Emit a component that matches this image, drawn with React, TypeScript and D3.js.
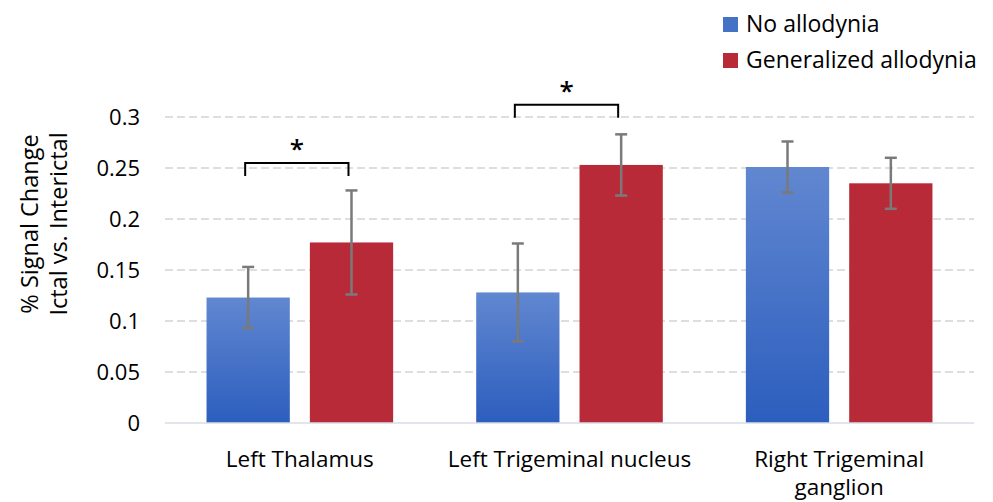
import React, { useRef, useEffect } from "react";
import * as d3 from "d3";

// chart values
const categories = ["Left Thalamus", "Left Trigeminal nucleus", "Right Trigeminal ganglion"];
const categoryLines = [["Left Thalamus"], ["Left Trigeminal nucleus"], ["Right Trigeminal", "ganglion"]];
const seriesNames = ["No allodynia", "Generalized allodynia"];
const noAllodynia = [0.123, 0.128, 0.251];
const noAllodyniaErr = [0.03, 0.048, 0.025];
const generalized = [0.177, 0.253, 0.235];
const generalizedErr = [0.051, 0.03, 0.025];
const yTicks = [0, 0.05, 0.1, 0.15, 0.2, 0.25, 0.3];
const yTickLabels = ["0", "0.05", "0.1", "0.15", "0.2", "0.25", "0.3"];
const sigCategories = ["Left Thalamus", "Left Trigeminal nucleus"];
const sigLevels = [0.255, 0.312];

const FONT = "'Open Sans', Lato, sans-serif";

const App = () => {
	const chartRef = useRef<SVGSVGElement>(null);

	useEffect(() => {
		const width = 993;
		const height = 502;
		const margin = { top: 117, right: 19, bottom: 79, left: 165 };

		d3.select(chartRef.current).selectAll("*").remove();

		const svg = d3
			.select(chartRef.current)
			.attr("width", width)
			.attr("height", height);

		const defs = svg.append("defs");
		const grad = defs.append("linearGradient")
			.attr("id", "blueGrad")
			.attr("x1", 0).attr("y1", 0).attr("x2", 0).attr("y2", 1);
		grad.append("stop").attr("offset", "0%").attr("stop-color", "#6187d0");
		grad.append("stop").attr("offset", "100%").attr("stop-color", "#2c5ebe");

		const colors = ["url(#blueGrad)", "#b82a37"];
		const legendColors = ["#4472c4", "#b82a37"];

		// scales
		const x0 = d3.scaleBand()
			.domain(categories)
			.range([margin.left, width - margin.right])
			.paddingInner(0)
			.paddingOuter(0);

		const x1 = d3.scaleBand()
			.domain(seriesNames)
			.range([0, x0.bandwidth()])
			.paddingInner(0.194)
			.paddingOuter(0.402);

		const yScale = d3.scaleLinear()
			.domain([0, 0.3])
			.range([height - margin.bottom, margin.top]);

		// gridlines
		svg.append("g")
			.selectAll("line")
			.data(yTicks.filter(d => d > 0))
			.enter()
			.append("line")
			.attr("x1", margin.left)
			.attr("x2", width - margin.right)
			.attr("y1", d => yScale(d))
			.attr("y2", d => yScale(d))
			.attr("stroke", "#d4d4d4")
			.attr("stroke-width", 1.5)
			.attr("stroke-dasharray", "8,4");

		// y tick labels
		svg.append("g")
			.selectAll("text")
			.data(yTicks)
			.enter()
			.append("text")
			.attr("x", 140)
			.attr("y", d => yScale(d))
			.attr("dy", "0.35em")
			.attr("text-anchor", "end")
			.attr("font-family", FONT)
			.attr("font-size", 22)
			.attr("fill", "#000")
			.text((d, i) => yTickLabels[i]);

		// y axis title
		const title = svg.append("text")
			.attr("transform", `translate(0, 224) rotate(-90)`)
			.attr("text-anchor", "middle")
			.attr("font-family", FONT)
			.attr("font-size", 23.5)
			.attr("fill", "#000");
		title.append("tspan").attr("x", 0).attr("y", 38).text("% Signal Change");
		title.append("tspan").attr("x", 0).attr("y", 67).text("Ictal vs. Interictal");

		const seriesData = [
			{ name: seriesNames[0], values: noAllodynia, errs: noAllodyniaErr },
			{ name: seriesNames[1], values: generalized, errs: generalizedErr }
		];

		const bars = seriesData.flatMap((s, si) =>
			s.values.map((v, ci) => ({ cat: categories[ci], series: s.name, value: v, err: s.errs[ci], si }))
		);

		// bars
		svg.append("g")
			.selectAll("rect")
			.data(bars)
			.enter()
			.append("rect")
			.attr("x", d => x0(d.cat)! + x1(d.series)!)
			.attr("y", d => yScale(d.value))
			.attr("width", x1.bandwidth())
			.attr("height", d => yScale(0) - yScale(d.value))
			.attr("fill", d => colors[d.si]);

		// baseline
		svg.append("line")
			.attr("x1", margin.left)
			.attr("x2", width - margin.right)
			.attr("y1", yScale(0))
			.attr("y2", yScale(0))
			.attr("stroke", "#d9dee6")
			.attr("stroke-width", 1.5);

		// error bars
		const eb = svg.append("g").attr("stroke", "#7a7a7a").attr("stroke-width", 2.5);
		bars.forEach(d => {
			const cx = x0(d.cat)! + x1(d.series)! + x1.bandwidth() / 2;
			eb.append("line").attr("x1", cx).attr("x2", cx)
				.attr("y1", yScale(d.value + d.err)).attr("y2", yScale(d.value - d.err));
			eb.append("line").attr("x1", cx - 6).attr("x2", cx + 6)
				.attr("y1", yScale(d.value + d.err)).attr("y2", yScale(d.value + d.err));
			eb.append("line").attr("x1", cx - 6).attr("x2", cx + 6)
				.attr("y1", yScale(d.value - d.err)).attr("y2", yScale(d.value - d.err));
		});

		// significance brackets
		sigCategories.forEach((cat, i) => {
			const xa = x0(cat)! + x1(seriesNames[0])! + x1.bandwidth() / 2 - 3;
			const xb = x0(cat)! + x1(seriesNames[1])! + x1.bandwidth() / 2 - 3;
			const yTop = yScale(sigLevels[i]);
			svg.append("path")
				.attr("d", `M${xa},${yTop + 13} L${xa},${yTop} L${xb},${yTop} L${xb},${yTop + 13}`)
				.attr("fill", "none")
				.attr("stroke", "#000")
				.attr("stroke-width", 2);
			svg.append("text")
				.attr("x", (xa + xb) / 2)
				.attr("y", yTop - 5)
				.attr("text-anchor", "middle")
				.attr("font-family", FONT)
				.attr("font-weight", 600)
				.attr("font-size", 26)
				.text("*");
		});

		// category labels
		const labels = svg.append("g")
			.selectAll("text")
			.data(categories)
			.enter()
			.append("text")
			.attr("text-anchor", "middle")
			.attr("font-family", FONT)
			.attr("font-size", 22.5)
			.attr("fill", "#000");
		labels.each(function (d, i) {
			const t = d3.select(this);
			categoryLines[i].forEach((line, li) => {
				t.append("tspan")
					.attr("x", x0(d)! + x0.bandwidth() / 2)
					.attr("y", 467 + li * 28)
					.text(line);
			});
		});

		// legend
		const legend = svg.append("g");
		seriesNames.forEach((name, i) => {
			legend.append("rect")
				.attr("x", 723)
				.attr("y", 17 + i * 36)
				.attr("width", 15)
				.attr("height", 15)
				.attr("fill", legendColors[i]);
			legend.append("text")
				.attr("x", 746)
				.attr("y", 32 + i * 36)
				.attr("font-family", FONT)
				.attr("font-size", 23)
				.attr("fill", "#000")
				.text(name);
		});
	}, []);

	return <svg ref={chartRef} style={{ position: "absolute", left: 0, top: 0 }}></svg>;
};

export default App;
